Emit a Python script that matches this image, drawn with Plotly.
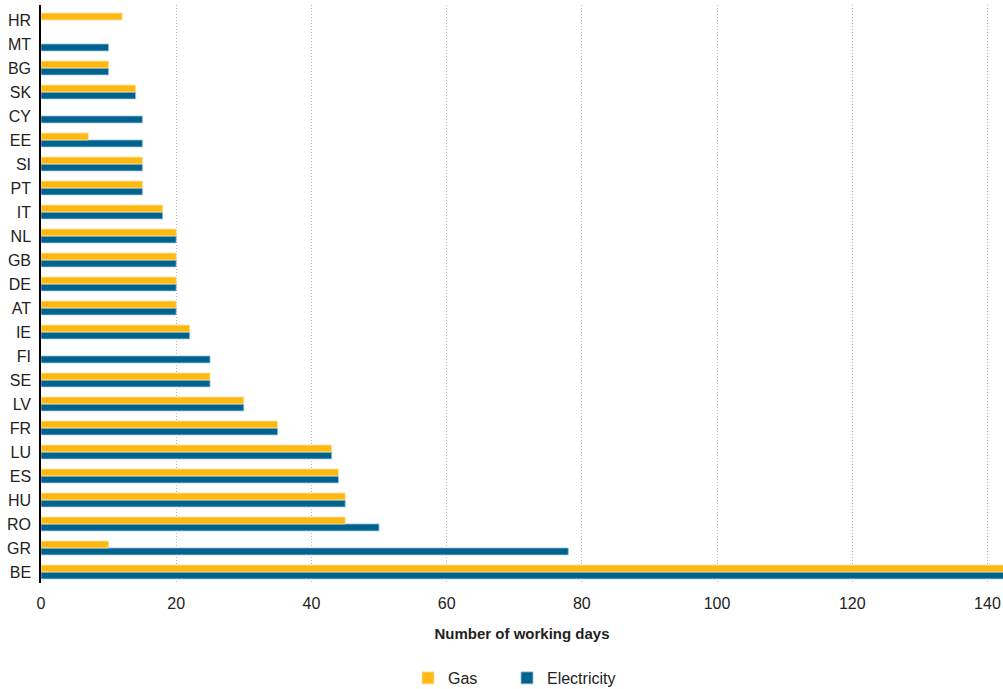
import plotly.graph_objects as go

countries = ["BE", "GR", "RO", "HU", "ES", "LU", "FR", "LV", "SE", "FI", "IE", "AT",
             "DE", "GB", "NL", "IT", "PT", "SI", "EE", "CY", "SK", "BG", "MT", "HR"]
gas = [143, 10, 45, 45, 44, 43, 35, 30, 25, None, 22, 20,
       20, 20, 20, 18, 15, 15, 7, None, 14, 10, None, 12]
electricity = [143, 78, 50, 45, 44, 43, 35, 30, 25, 25, 22, 20,
               20, 20, 20, 18, 15, 15, 15, 15, 14, 10, 10, None]
x_ticks = [0, 20, 40, 60, 80, 100, 120, 140]

GAS_C = "#FDB813"
EL_C = "#00628F"
FONT = "Liberation Sans, Arial, sans-serif"

fig = go.Figure()
fig.add_trace(go.Bar(y=countries, x=electricity, orientation="h", name="Electricity",
                     marker=dict(color=EL_C, line=dict(color="#9cc3da", width=0.8)),
                     legend="legend2"))
fig.add_trace(go.Bar(y=countries, x=gas, orientation="h", name="Gas",
                     marker=dict(color=GAS_C, line=dict(color="#fde3a0", width=0.8)),
                     legend="legend"))

leg_common = dict(orientation="h", xanchor="left", yref="container", y=0.016,
                  yanchor="middle", font=dict(size=16), itemwidth=30,
                  bgcolor="rgba(0,0,0,0)")

fig.update_layout(
    width=1003, height=689,
    margin=dict(l=41, r=0, t=5, b=106),
    barmode="group", bargap=0.42, bargroupgap=0,
    plot_bgcolor="white", paper_bgcolor="white",
    font=dict(family=FONT, size=16, color="#222222"),
    xaxis=dict(range=[0, 142.3], tickvals=x_ticks, showgrid=True,
               gridcolor="#b8b8b8", griddash="1px,2px", gridwidth=1,
               zeroline=False, showline=False, ticks="outside", ticklen=6,
               tickcolor="rgba(0,0,0,0)", automargin=False,
               tickfont=dict(size=16),
               title=dict(text="<b>Number of working days</b>",
                          font=dict(size=15), standoff=17)),
    yaxis=dict(showgrid=False, showline=True, linecolor="black", linewidth=1.5,
               ticks="outside", ticklen=5, tickcolor="rgba(0,0,0,0)", automargin=False,
               tickfont=dict(size=16), range=[-0.46, 23.625]),
    legend=dict(x=0.3815, **leg_common),
    legend2=dict(x=0.4844, **leg_common),
    showlegend=True,
)

fig.write_html("out.html", config={"displayModeBar": False},
               post_script="document.body.style.margin='0';document.body.style.overflow='hidden';")
